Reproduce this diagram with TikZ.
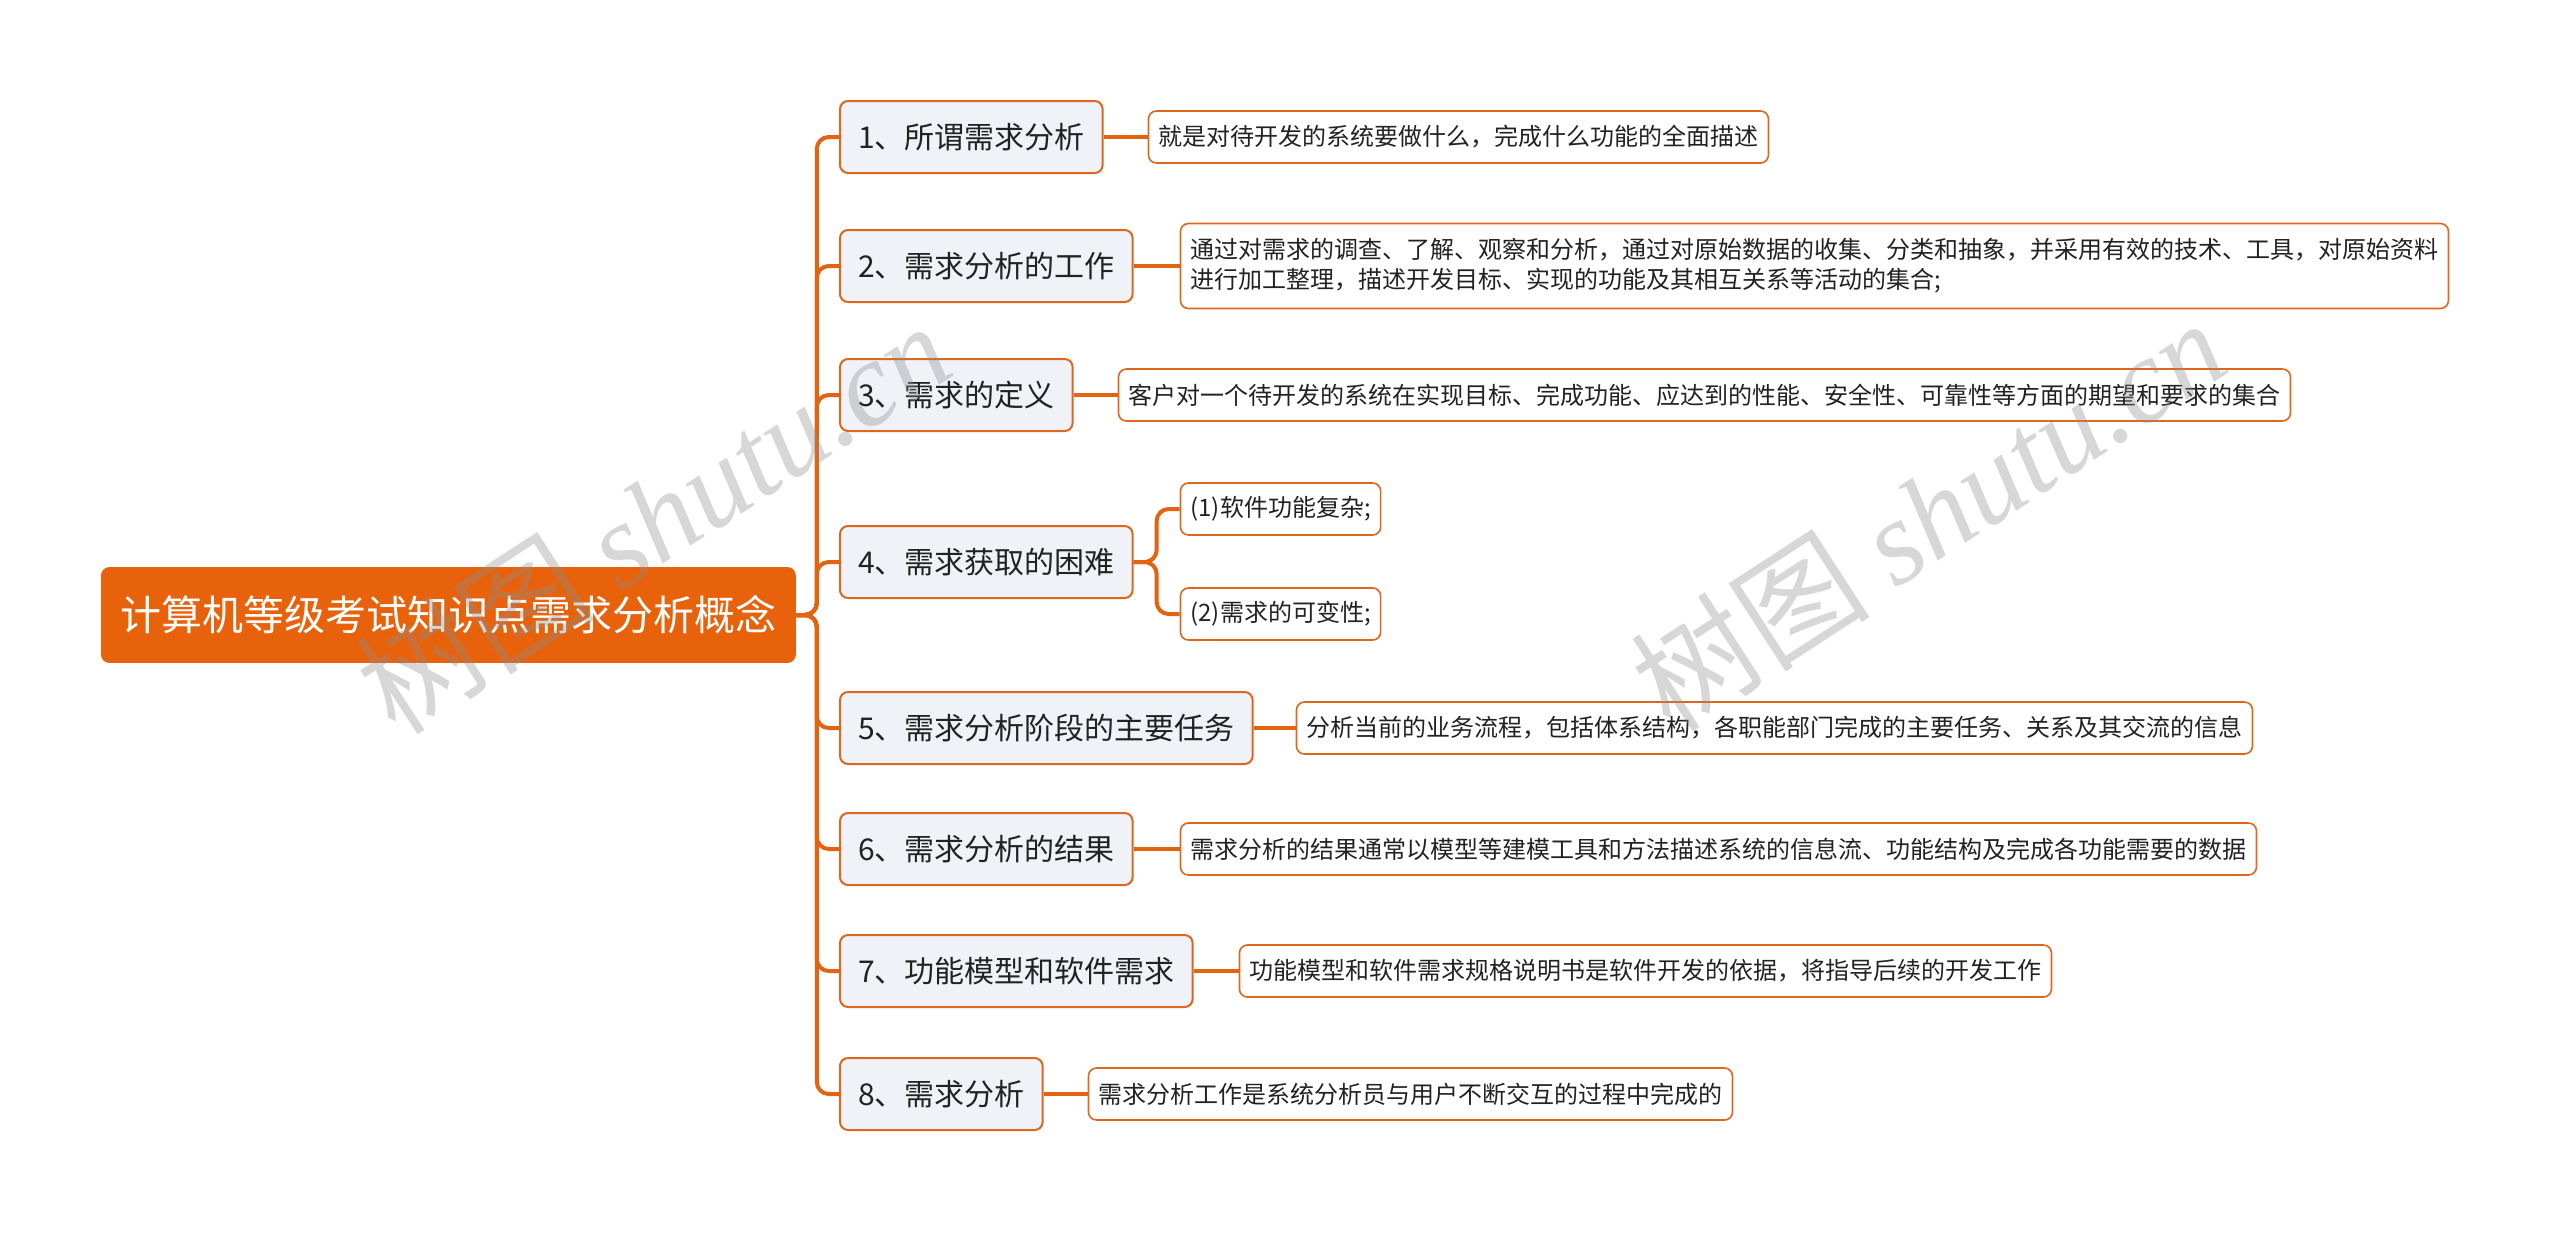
\documentclass[tikz,border=0pt]{standalone}
\usepackage{fontspec}
\setmainfont{Noto Sans CJK SC}
\newfontfamily\markfont{Liberation Serif}
\newfontfamily\markcjk{Noto Sans CJK SC}
\usepackage{tikz}
\usetikzlibrary{positioning, calc}
\definecolor{rootBg}{RGB}{232, 98, 12}
\definecolor{branchFg}{RGB}{222, 102, 30}
\definecolor{branchBg}{RGB}{239, 242, 246}
\definecolor{lineFg}{RGB}{226, 100, 16}
\definecolor{textFg}{RGB}{34, 34, 34}
\tikzstyle{line} = [line width=2pt, draw=lineFg]
\tikzstyle{basic} = [rectangle, rounded corners=4pt, text centered, draw=branchFg, text=textFg]
\tikzstyle{rootstyle} = [basic, fill=rootBg, draw=rootBg, text=white, font=\fontsize{20.5}{24}\selectfont, minimum height=47.5pt, minimum width=347pt, inner xsep=8pt]
\tikzstyle{branch} = [basic, fill=branchBg, line width=1pt, font=\fontsize{15}{18}\selectfont, minimum height=36pt, inner xsep=9pt]
\tikzstyle{leaf} = [basic, fill=white, line width=0.8pt, font=\fontsize{12}{15}\selectfont, minimum height=26pt, inner xsep=5pt]
\tikzstyle{wmark} = [rotate=33, text=black!45, opacity=0.35, font=\fontsize{60}{60}\selectfont]

\begin{document}
\begin{tikzpicture}[x=0.5pt, y=-0.5pt]
\useasboundingbox (0,0) rectangle (2560,1233);

\node (root) [rootstyle, anchor=west] at(101,615) {计算机等级考试知识点需求分析概念};

\node (b1) [branch, anchor=west] at(839,137) {1、所谓需求分析};
\node (b2) [branch, anchor=west] at(839,266) {2、需求分析的工作};
\node (b3) [branch, anchor=west] at(839,395) {3、需求的定义};
\node (b4) [branch, anchor=west] at(839,562) {4、需求获取的困难};
\node (b5) [branch, anchor=west] at(839,728) {5、需求分析阶段的主要任务};
\node (b6) [branch, anchor=west] at(839,849) {6、需求分析的结果};
\node (b7) [branch, anchor=west] at(839,971) {7、功能模型和软件需求};
\node (b8) [branch, anchor=west] at(839,1094) {8、需求分析};

\node (l1) [leaf, anchor=west, xshift=22pt] at(b1.east) {就是对待开发的系统要做什么，完成什么功能的全面描述};
\node (l2) [leaf, anchor=west, xshift=23pt, align=left, minimum height=42.5pt] at(b2.east) {通过对需求的调查、了解、观察和分析，通过对原始数据的收集、分类和抽象，并采用有效的技术、工具，对原始资料\\进行加工整理，描述开发目标、实现的功能及其相互关系等活动的集合;};
\node (l3) [leaf, anchor=west, xshift=22pt] at(b3.east) {客户对一个待开发的系统在实现目标、完成功能、应达到的性能、安全性、可靠性等方面的期望和要求的集合};
\node (l4a) [leaf, anchor=west, xshift=23pt, yshift=26.5pt] at(b4.east) {(1)软件功能复杂;};
\node (l4b) [leaf, anchor=west, xshift=23pt, yshift=-26pt] at(b4.east) {(2)需求的可变性;};
\node (l5) [leaf, anchor=west, xshift=21pt] at(b5.east) {分析当前的业务流程，包括体系结构，各职能部门完成的主要任务、关系及其交流的信息};
\node (l6) [leaf, anchor=west, xshift=23pt] at(b6.east) {需求分析的结果通常以模型等建模工具和方法描述系统的信息流、功能结构及完成各功能需要的数据};
\node (l7) [leaf, anchor=west, xshift=22.5pt] at(b7.east) {功能模型和软件需求规格说明书是软件开发的依据，将指导后续的开发工作};
\node (l8) [leaf, anchor=west, xshift=22pt] at(b8.east) {需求分析工作是系统分析员与用户不断交互的过程中完成的};

\draw [line, rounded corners=6pt] (root.east) -- ++(21,0) |- (b1.west);
\draw [line, rounded corners=6pt] (root.east) -- ++(21,0) |- (b2.west);
\draw [line, rounded corners=6pt] (root.east) -- ++(21,0) |- (b3.west);
\draw [line, rounded corners=6pt] (root.east) -- ++(21,0) |- (b4.west);
\draw [line, rounded corners=6pt] (root.east) -- ++(21,0) |- (b5.west);
\draw [line, rounded corners=6pt] (root.east) -- ++(21,0) |- (b6.west);
\draw [line, rounded corners=6pt] (root.east) -- ++(21,0) |- (b7.west);
\draw [line, rounded corners=6pt] (root.east) -- ++(21,0) |- (b8.west);

\draw [line] (b1.east) -- (l1.west);
\draw [line] (b2.east) -- (l2.west);
\draw [line] (b3.east) -- (l3.west);
\draw [line, rounded corners=6pt] (b4.east) -- ++(23,0) |- (l4a.west);
\draw [line, rounded corners=6pt] (b4.east) -- ++(23,0) |- (l4b.west);
\draw [line] (b5.east) -- (l5.west);
\draw [line] (b6.east) -- (l6.west);
\draw [line] (b7.east) -- (l7.west);
\draw [line] (b8.east) -- (l8.west);

% watermark
\node (wm1) [wmark] at(653,517) {{\markcjk 树图} {\markfont\itshape shutu.cn}};
\node (wm2) [wmark] at(1928,514) {{\markcjk 树图} {\markfont\itshape shutu.cn}};

\end{tikzpicture}
\end{document}
